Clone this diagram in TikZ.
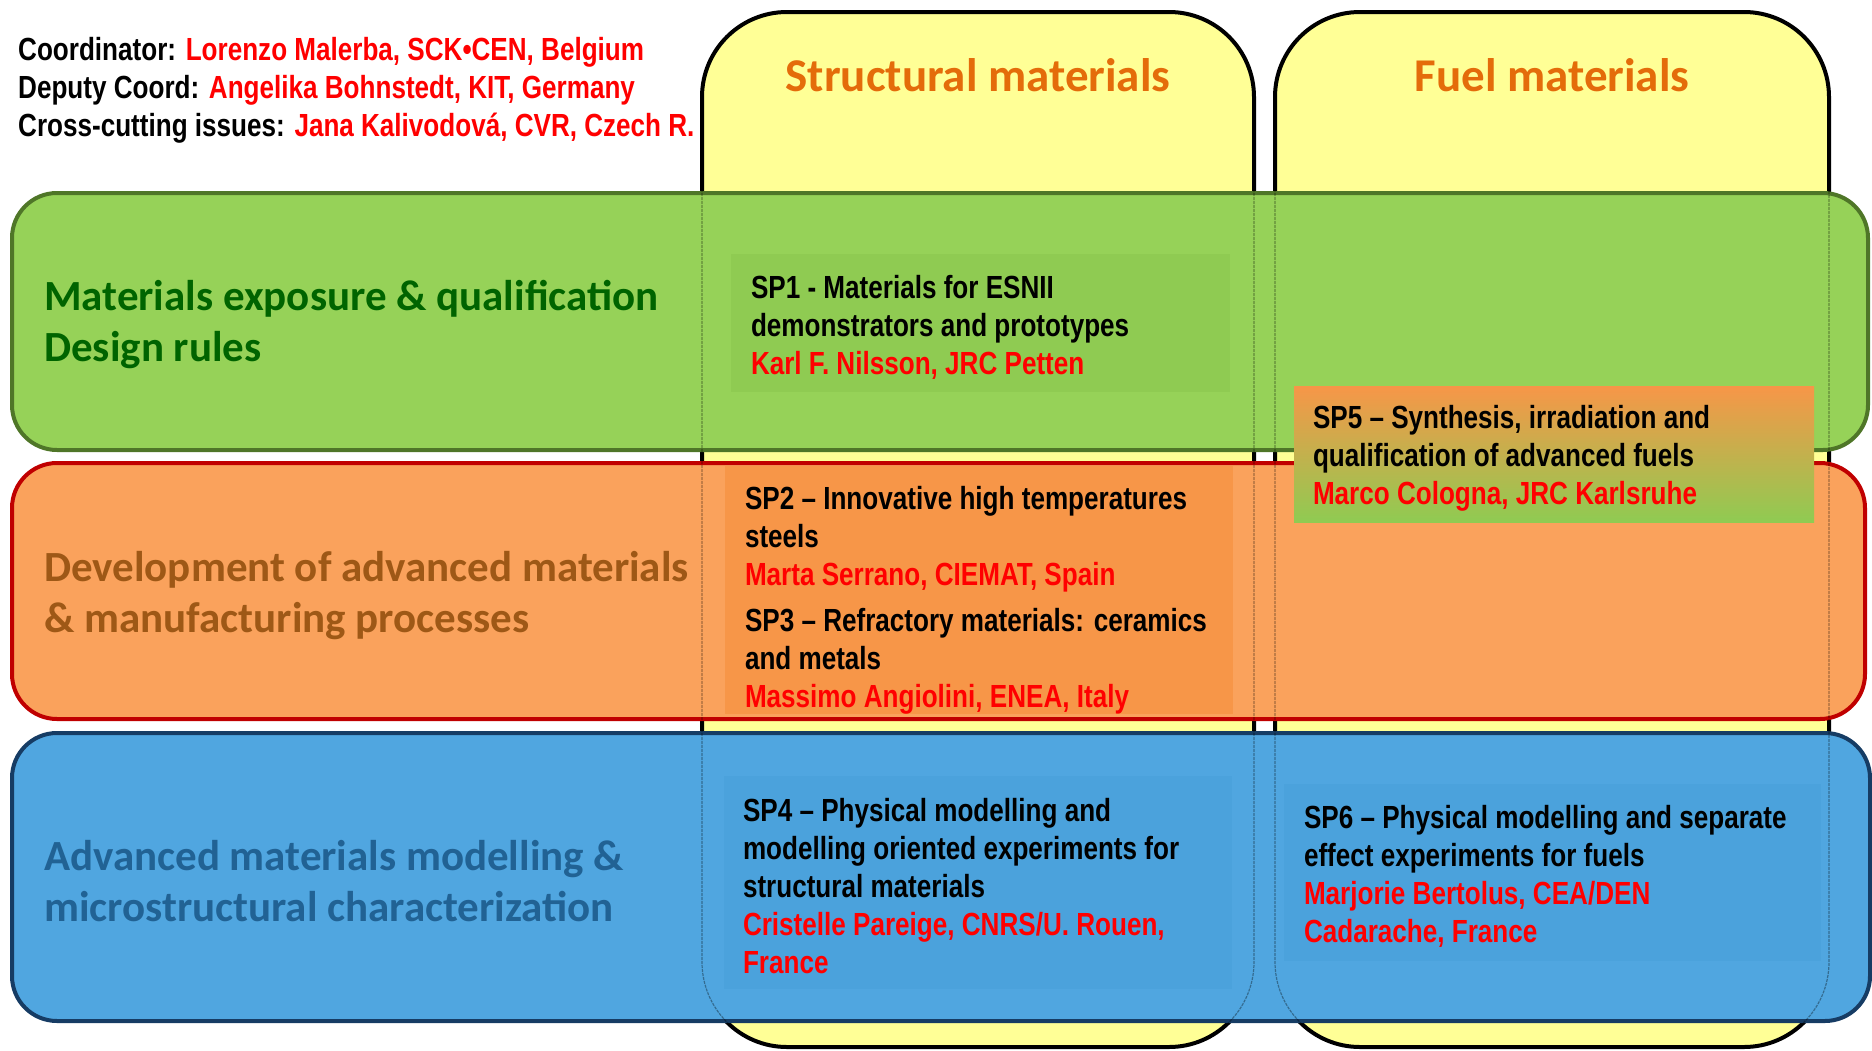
\documentclass[tikz,border=0pt]{standalone}
\usepackage{fontspec}
\setmainfont{Carlito}
\newfontfamily\narrowfont{Liberation Sans}[FakeStretch=0.815]
\usetikzlibrary{positioning}

\definecolor{colyellow}{RGB}{255,255,150}
\definecolor{bandgreen}{RGB}{150,210,88}
\definecolor{boxgreen}{RGB}{143,203,82}
\definecolor{greenline}{RGB}{79,118,40}
\definecolor{bandorange}{RGB}{250,162,92}
\definecolor{boxorange}{RGB}{247,150,72}
\definecolor{redline}{RGB}{192,0,0}
\definecolor{bandblue}{RGB}{80,166,224}
\definecolor{boxblue}{RGB}{75,162,220}
\definecolor{blueline}{RGB}{22,60,100}
\definecolor{titleorange}{RGB}{228,108,10}
\definecolor{labelgreen}{RGB}{0,100,0}
\definecolor{labelbrown}{RGB}{158,88,22}
\definecolor{labelblue}{RGB}{33,98,148}

\begin{document}
\begin{tikzpicture}[x=1pt,y=-1pt,
    column/.style={draw=black,line width=4pt,fill=colyellow,rounded corners=85pt},
    band/.style={line width=4pt,rounded corners=45pt},
    spbox/.style={draw=none,minimum width=#1,inner sep=0pt},
    sptext/.style={anchor=west,align=left,inner sep=0pt,
        font=\narrowfont\bfseries\fontsize{32}{38}\selectfont},
    bandlabel/.style={anchor=west,align=left,inner sep=0pt,
        font=\bfseries\fontsize{43}{51}\selectfont},
    coltitle/.style={text=titleorange,font=\bfseries\fontsize{47}{50}\selectfont}]
    \useasboundingbox (0,0) rectangle (1872,1050);

    % the two material columns
    \draw[column] (702,12) rectangle (1254,1047);
    \draw[column] (1275,12) rectangle (1829,1047);
    \node[coltitle] (structural) at (978,75) {Structural materials};
    \node[coltitle] (fuel) at (1552,75) {Fuel materials};

    % the three horizontal bands
    \draw[band,draw=greenline,fill=bandgreen] (12,193) rectangle (1868,450);
    \draw[band,draw=redline,fill=bandorange] (12,463) rectangle (1865,719);
    \draw[band,draw=blueline,fill=bandblue] (12,733) rectangle (1870,1021);
    % column edges seen through the bands
    \draw[black,opacity=0.35,line width=1.2pt,dash pattern=on 3pt off 1pt,
        rounded corners=85pt]
        (702,12) rectangle (1254,1047) (1275,12) rectangle (1829,1047);

    \node[bandlabel,text=labelgreen] (exposure) at (44,325)
        {Materials exposure \& qualification\\Design rules};
    \node[bandlabel,text=labelbrown] (development) at (44,596)
        {Development of advanced materials\\\& manufacturing processes};
    \node[bandlabel,text=labelblue] (modelling) at (44,881)
        {Advanced materials modelling \&\\microstructural characterization};

    % header
    \node[sptext] (coord) at (18,90)
        {Coordinator: \textcolor{red}{Lorenzo Malerba, SCK•CEN, Belgium}\\
         Deputy Coord: \textcolor{red}{Angelika Bohnstedt, KIT, Germany}\\
         Cross-cutting issues: \textcolor{red}{Jana Kalivodová, CVR, Czech R.}};

    % sub-programme boxes
    \node[spbox=499pt,minimum height=138pt,fill=boxgreen] (sp1) at (980.5,323) {};
    \node[sptext] (sp1 text) at ([shift={(20,4)}]sp1.west)
        {SP1 - Materials for ESNII\\demonstrators and prototypes\\
         \textcolor{red}{Karl F. Nilsson, JRC Petten}};

    \node[spbox=508pt,minimum height=248pt,fill=boxorange] (sp23) at (979,590) {};
    \node[sptext] (sp2 text) at ([xshift=20pt]sp23.west |- 0,539)
        {SP2 – Innovative high temperatures\\steels\\
         \textcolor{red}{Marta Serrano, CIEMAT, Spain}};
    \node[sptext] (sp3 text) at ([xshift=20pt]sp23.west |- 0,661)
        {SP3 – Refractory materials: ceramics\\and metals\\
         \textcolor{red}{Massimo Angiolini, ENEA, Italy}};

    \node[spbox=520pt,minimum height=136pt,top color=boxorange,bottom color=boxgreen]
        (sp5) at (1554,454) {};
    \node[sptext] (sp5 text) at ([shift={(19,4)}]sp5.west)
        {SP5 – Synthesis, irradiation and\\qualification of advanced fuels\\
         \textcolor{red}{Marco Cologna, JRC Karlsruhe}};

    \node[spbox=508pt,minimum height=213pt,fill=boxblue] (sp4) at (978,882.5) {};
    \node[sptext] (sp4 text) at ([shift={(19,4)}]sp4.west)
        {SP4 – Physical modelling and\\modelling oriented experiments for\\
         structural materials\\
         \textcolor{red}{Cristelle Pareige, CNRS/U. Rouen,}\\\textcolor{red}{France}};

    \node[spbox=537pt,minimum height=177pt,fill=boxblue] (sp6) at (1552.5,872.5) {};
    \node[sptext] (sp6 text) at ([shift={(20,4)}]sp6.west)
        {SP6 – Physical modelling and separate\\effect experiments for fuels\\
         \textcolor{red}{Marjorie Bertolus, CEA/DEN}\\
         \textcolor{red}{Cadarache, France}};
\end{tikzpicture}
\end{document}
